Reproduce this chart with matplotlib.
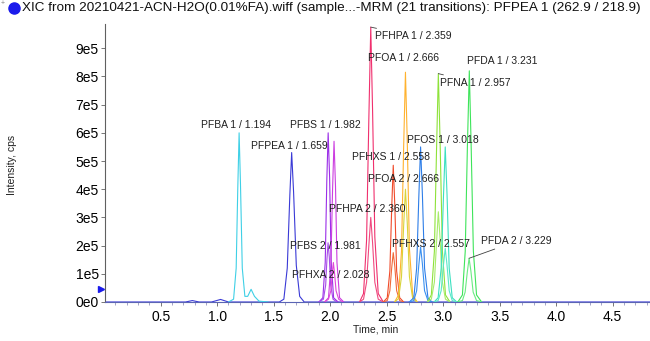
import numpy as np
import matplotlib
matplotlib.use("Agg")
import matplotlib.pyplot as plt
from matplotlib.lines import Line2D
from matplotlib.ticker import MultipleLocator, FuncFormatter

plt.rcParams["font.family"] = ["Liberation Sans", "DejaVu Sans"]

# ==============================
# XIC - 21 transiciones MRM (intensidades en unidades de 1e5 cps)
# ==============================

title = "XIC from 20210421-ACN-H2O(0.01%FA).wiff (sample...-MRM (21 transitions): PFPEA 1 (262.9 / 218.9)"

# trazas: nombre, color, tiempos (min), intensidades (1e5 cps)
pfpea1_t = [0.0, 0.72, 0.78, 0.84, 0.95, 1.03, 1.10, 1.55, 1.59, 1.62, 1.643, 1.659, 1.676, 1.70, 1.73, 1.77, 4.83]
pfpea1_i = [0, 0, 0.05, 0, 0, 0.09, 0, 0, 0.1, 1.2, 3.8, 5.3, 3.9, 1.3, 0.2, 0, 0]

pfba1_t = [1.10, 1.145, 1.168, 1.182, 1.194, 1.206, 1.222, 1.245, 1.27, 1.30, 1.33, 1.37, 1.45]
pfba1_i = [0, 0.1, 1.2, 4.0, 6.0, 4.2, 1.2, 0.2, 0.2, 0.45, 0.2, 0.03, 0]

pfbs1_t = [1.90, 1.935, 1.956, 1.97, 1.982, 1.995, 2.008, 2.03, 2.07]
pfbs1_i = [0, 0.15, 1.4, 4.3, 6.0, 4.4, 1.5, 0.15, 0]
pfhxa1_t = [1.95, 1.985, 2.006, 2.021, 2.034, 2.047, 2.06, 2.083, 2.12]
pfhxa1_i = [0, 0.15, 1.3, 4.0, 5.7, 4.1, 1.4, 0.15, 0]
pfbs2_t = [1.90, 1.94, 1.96, 1.971, 1.981, 1.992, 2.004, 2.025, 2.06]
pfbs2_i = [0, 0.1, 0.6, 1.5, 2.1, 1.6, 0.6, 0.1, 0]
pfhxa2_t = [1.95, 1.985, 2.006, 2.018, 2.028, 2.039, 2.052, 2.075, 2.11]
pfhxa2_i = [0, 0.1, 0.4, 1.0, 1.4, 1.0, 0.4, 0.1, 0]

pfhpa_t = [2.26, 2.295, 2.322, 2.342, 2.359, 2.375, 2.395, 2.425, 2.47]
pfhpa1_i = [0, 0.3, 2.2, 6.5, 9.75, 6.8, 2.3, 0.3, 0]
pfhpa2_i = [0, 0.1, 0.7, 2.0, 3.0, 2.1, 0.7, 0.1, 0]

pfhxs_t = [2.47, 2.505, 2.528, 2.544, 2.558, 2.572, 2.588, 2.615, 2.65]
pfhxs1_i = [0, 0.15, 1.1, 3.3, 4.85, 3.4, 1.1, 0.15, 0]
pfhxs2_i = [0, 0.05, 0.4, 1.2, 1.75, 1.25, 0.4, 0.05, 0]

pfoa_t = [2.57, 2.605, 2.631, 2.65, 2.666, 2.682, 2.701, 2.73, 2.77]
pfoa1_i = [0, 0.25, 1.8, 5.5, 8.15, 5.7, 1.9, 0.25, 0]
pfoa2_i = [0, 0.12, 0.9, 2.7, 4.0, 2.8, 0.9, 0.12, 0]

azul_t = [2.70, 2.74, 2.765, 2.784, 2.80, 2.816, 2.835, 2.865, 2.90]
azul1_i = [0, 0.15, 1.2, 3.7, 5.5, 3.8, 1.2, 0.15, 0]
azul2_i = [0, 0.05, 0.4, 1.3, 1.95, 1.35, 0.4, 0.05, 0]

pfna_t = [2.86, 2.895, 2.922, 2.941, 2.957, 2.973, 2.993, 3.02, 3.06]
pfna1_i = [0, 0.25, 1.8, 5.4, 8.1, 5.6, 1.8, 0.25, 0]
pfna2_i = [0, 0.1, 0.7, 2.1, 3.2, 2.2, 0.7, 0.1, 0]

pfos_t = [2.92, 2.955, 2.982, 3.002, 3.018, 3.034, 3.053, 3.08, 3.12]
pfos1_i = [0, 0.15, 1.2, 3.7, 5.5, 3.8, 1.2, 0.15, 0]
pfos2_i = [0, 0.05, 0.4, 1.3, 1.9, 1.3, 0.4, 0.05, 0]

pfda1_t = [3.13, 3.17, 3.195, 3.214, 3.231, 3.247, 3.267, 3.295, 3.34]
pfda1_i = [0, 0.25, 1.8, 5.5, 8.2, 5.6, 1.8, 0.25, 0]
pfda2_t = [3.13, 3.17, 3.194, 3.213, 3.229, 3.245, 3.265, 3.295, 3.34]
pfda2_i = [0, 0.05, 0.35, 1.05, 1.55, 1.1, 0.35, 0.05, 0]

trazas = [
    ("PFPEA 1", "#3a3ad6", pfpea1_t, pfpea1_i),
    ("PFBA 1", "#3fd0e6", pfba1_t, pfba1_i),
    ("PFBS 1", "#9b2ee8", pfbs1_t, pfbs1_i),
    ("PFHXA 1", "#cc3ee0", pfhxa1_t, pfhxa1_i),
    ("PFBS 2", "#a64ce8", pfbs2_t, pfbs2_i),
    ("PFHXA 2", "#e048d8", pfhxa2_t, pfhxa2_i),
    ("PFHPA 1", "#f0306e", pfhpa_t, pfhpa1_i),
    ("PFHPA 2", "#f04a80", pfhpa_t, pfhpa2_i),
    ("PFHXS 1", "#f04a2a", pfhxs_t, pfhxs1_i),
    ("PFHXS 2", "#f06a3a", pfhxs_t, pfhxs2_i),
    ("PFOA 1", "#ffb22e", pfoa_t, pfoa1_i),
    ("PFOA 2", "#d8d43a", pfoa_t, pfoa2_i),
    ("X 1", "#2e7ee8", azul_t, azul1_i),
    ("X 2", "#3a90f0", azul_t, azul2_i),
    ("PFNA 1", "#8ee23a", pfna_t, pfna1_i),
    ("PFNA 2", "#a8ec6a", pfna_t, pfna2_i),
    ("PFOS 1", "#3ce0c0", pfos_t, pfos1_i),
    ("PFOS 2", "#5ae8c8", pfos_t, pfos2_i),
    ("PFDA 1", "#3ee45a", pfda1_t, pfda1_i),
    ("PFDA 2", "#6aeb82", pfda2_t, pfda2_i),
]

# etiquetas de pico: nombre, tiempo de retencion
etiquetas = [
    ("PFBA 1", 1.194), ("PFPEA 1", 1.659), ("PFBS 1", 1.982), ("PFBS 2", 1.981),
    ("PFHXA 2", 2.028), ("PFHPA 1", 2.359), ("PFHPA 2", 2.360), ("PFHXS 1", 2.558),
    ("PFHXS 2", 2.557), ("PFOA 1", 2.666), ("PFOA 2", 2.666), ("PFNA 1", 2.957),
    ("PFOS 1", 3.018), ("PFDA 1", 3.231), ("PFDA 2", 3.229),
]
# desplazamiento del texto respecto al apice (pixeles) y si lleva linea guia
offsets = {
    "PFBA 1": (-38, 8, False), "PFPEA 1": (-41, 7, False), "PFBS 1": (-38, 8, False),
    "PFBS 2": (-38, -3, False), "PFHXA 2": (-41, -12, False), "PFHPA 1": (4, -9, True),
    "PFHPA 2": (-42, 8, False), "PFHXS 1": (-41, 8, False), "PFHXS 2": (-1, 9, False),
    "PFOA 1": (-37, 14, False), "PFOA 2": (-37, 10, False), "PFNA 1": (2, -9, True),
    "PFOS 1": (-38, 7, False), "PFDA 1": (-2, 10, False), "PFDA 2": (12, 17, True),
}

# ==============================
# Grafico
# ==============================
fig = plt.figure(figsize=(6.5, 3.41), dpi=100)
ax = fig.add_axes([0.1615, 0.1144, 0.8385, 0.8152])

for nombre, color, t, i in trazas:
    ax.plot(t, np.array(i) * 1e5, color=color, lw=0.8, zorder=3 if nombre != "PFPEA 1" else 2)

apices = {nombre: (t, np.array(i)) for nombre, color, t, i in trazas}
for nombre, rt in etiquetas:
    t, i = apices[nombre]
    h = i.max() * 1e5
    xp = t[int(np.argmax(i))]
    dx, dy, guia = offsets[nombre]
    props = dict(arrowstyle="-", lw=0.6, color="#404040", shrinkA=0, shrinkB=0) if guia else None
    ax.annotate(f"{nombre} / {rt:.3f}", xy=(xp, h), xytext=(dx, dy),
                textcoords="offset pixels", ha="left", va="center",
                fontsize=7.5, color="#202020", arrowprops=props, zorder=5)

ax.set_xlim(0.007, 4.83)
ax.set_ylim(0, 9.86e5)
ax.xaxis.set_major_locator(MultipleLocator(0.5))
ax.xaxis.set_minor_locator(MultipleLocator(0.1))
ax.yaxis.set_major_locator(MultipleLocator(1e5))
ax.yaxis.set_major_formatter(FuncFormatter(lambda v, p: "0e0" if v == 0 else f"{v / 1e5:.0f}e5"))
ax.xaxis.set_major_formatter(FuncFormatter(lambda v, p: "" if v < 0.1 else f"{v:.1f}"))
ax.tick_params(axis="both", labelsize=10, length=3, width=0.6, color="#606060", pad=3)
ax.tick_params(axis="y", pad=1.5)
ax.tick_params(axis="x", which="minor", length=2, width=0.5, color="#8080b0")
ax.spines["top"].set_visible(False)
ax.spines["right"].set_visible(False)
ax.spines["left"].set_color("#606060")
ax.spines["bottom"].set_color("#5a64b4")
ax.spines["left"].set_linewidth(0.8)
ax.spines["bottom"].set_linewidth(0.8)

# cursor azul en el eje y
ax.plot([-0.03], [0.45e5], marker=">", ms=4, color="#1a1aeb", clip_on=False, zorder=6)

fig.text(376 / 650, 1 - 330 / 341, "Time, min", fontsize=7.5, ha="center", va="center", color="#202020")
fig.text(12 / 650, 1 - 165 / 341, "Intensity, cps", fontsize=7.5, rotation=90, ha="center", va="center", color="#202020")

fig.add_artist(Line2D([14 / 650], [1 - 8 / 341], marker="o", ms=8, color="#1a1aeb", transform=fig.transFigure))
fig.text(3 / 650, 1 - 3 / 341, "+", fontsize=5, color="#808080", ha="center", va="center")
fig.text(22 / 650, 1 - 8 / 341, title, fontsize=9.7, ha="left", va="center", color="#101010")

fig.savefig("out.png", dpi=100)
